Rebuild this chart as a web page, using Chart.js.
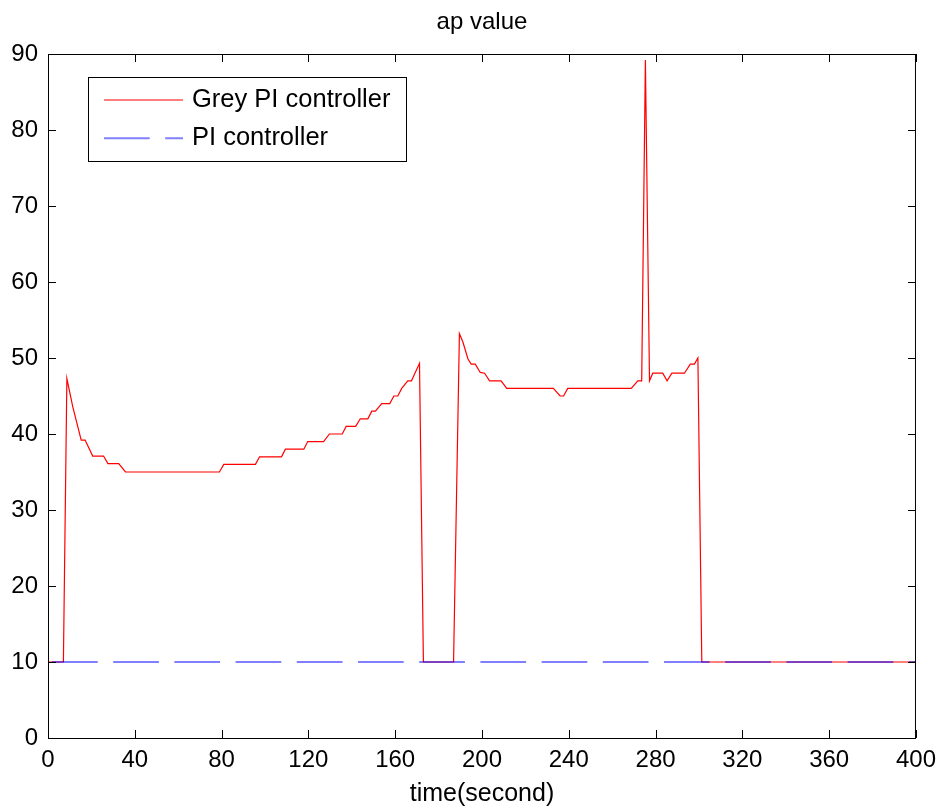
<!DOCTYPE html>
<html>
<head>
<meta charset="utf-8">
<title>ap value</title>
<script src="https://cdn.jsdelivr.net/npm/chart.js@4.4.1/dist/chart.umd.min.js"></script>
<style>
  html, body { margin: 0; padding: 0; background: #fff; }
  #wrap { position: relative; width: 944px; height: 809px; }
</style>
</head>
<body>
<div id="wrap"><canvas id="apChart"></canvas></div>
<script>
// Grey PI controller output (time in seconds, ap value)
const greyTime = [
    0, 7.1, 8.7, 11.4, 15.3, 17.1, 20.6, 25.6, 27.6, 32.6, 35.7, 79.0, 81.0, 95.6, 97.5,
    107.6, 109.4, 117.9, 119.7, 127.0, 129.7, 135.6, 137.4, 141.8, 143.9, 147.4, 149.2,
    150.9, 153.8, 157.5, 159.4, 161.2, 163.0, 165.8, 167.5, 171.2, 173.0,
    186.9, 189.6, 191.2, 193.5, 195.0, 196.9, 199.2, 201.2, 203.5, 208.8, 211.4, 232.9,
    236.0, 237.6, 239.5, 268.8, 271.8, 273.6, 275.3, 277.2, 278.7, 283.3, 285.3, 287.5,
    293.3, 296.0, 297.9, 299.5, 301.3, 400
];
const greyValue = [
    10, 10, 47.3, 43.6, 39.2, 39.2, 37.1, 37.1, 36.1, 36.1, 35, 35, 36, 36, 37,
    37, 38, 38, 39, 39, 40, 40, 41, 41, 42, 42, 43,
    43, 44, 44, 45, 45, 46, 47, 47, 49.3, 10,
    10, 53.2, 52.1, 49.9, 49.2, 49.2, 48.1, 48, 47, 47, 46, 46,
    45, 45, 46, 46, 47, 47, 89.2, 47, 48, 48, 47, 48,
    48, 49.2, 49.2, 50, 10, 10
];

// Plain PI controller holds a constant value
const piTime = [0, 400];
const piValue = [10, 10];

const xTicks = [0, 40, 80, 120, 160, 200, 240, 280, 320, 360, 400];
const yTicks = [0, 10, 20, 30, 40, 50, 60, 70, 80, 90];

const FONT = "'Liberation Sans', Arial, Helvetica, sans-serif";
Chart.defaults.font.family = FONT;
Chart.defaults.color = '#000';

const toPoints = (xs, ys) => xs.map((x, i) => ({ x: x, y: ys[i] }));

// matlab style box: title over the axes, frame, inward ticks on all four sides, boxed legend
const axesBox = {
    id: 'axesBox',
    afterDraw(chart) {
        const { ctx, chartArea: a, scales } = chart;
        const len = 8;
        ctx.save();

        ctx.fillStyle = '#000';
        ctx.font = '24px ' + FONT;
        ctx.textAlign = 'center';
        ctx.textBaseline = 'middle';
        ctx.fillText('ap value', (a.left + a.right) / 2, a.top - 31.5);

        ctx.strokeStyle = '#000';
        ctx.lineWidth = 1;
        ctx.beginPath();
        scales.x.ticks.forEach(t => {
            const px = Math.round(scales.x.getPixelForValue(t.value)) + 0.5;
            ctx.moveTo(px, a.bottom); ctx.lineTo(px, a.bottom - len);
            ctx.moveTo(px, a.top); ctx.lineTo(px, a.top + len);
        });
        scales.y.ticks.forEach(t => {
            const py = Math.round(scales.y.getPixelForValue(t.value)) + 0.5;
            ctx.moveTo(a.left, py); ctx.lineTo(a.left + len, py);
            ctx.moveTo(a.right, py); ctx.lineTo(a.right - len, py);
        });
        ctx.stroke();
        ctx.strokeRect(a.left + 0.5, a.top + 0.5, a.right - a.left - 1, a.bottom - a.top);

        // legend
        const lx = a.left + 40, ly = a.top + 23, lw = 318, lh = 84;
        ctx.fillStyle = '#fff';
        ctx.fillRect(lx, ly, lw, lh);
        ctx.strokeRect(lx + 0.5, ly + 0.5, lw, lh);
        ctx.font = '25.5px ' + FONT;
        ctx.textBaseline = 'middle';
        ctx.textAlign = 'left';
        [...chart.data.datasets].sort((p, q) => p.legendIndex - q.legendIndex).forEach((ds, i) => {
            const y = ly + 23 + i * 38.3;
            ctx.save();
            ctx.strokeStyle = ds.borderColor;
            ctx.lineWidth = ds.borderWidth;
            ctx.setLineDash(ds.borderDash || []);
            ctx.beginPath();
            ctx.moveTo(lx + 16, y); ctx.lineTo(lx + 95, y);
            ctx.stroke();
            ctx.restore();
            ctx.fillStyle = '#000';
            ctx.fillText(ds.label, lx + 104, y);
        });
        ctx.restore();
    }
};

new Chart(document.getElementById('apChart'), {
    type: 'line',
    data: {
        datasets: [
            {
                label: 'Grey PI controller',
                legendIndex: 0,
                data: toPoints(greyTime, greyValue),
                borderColor: '#ff0000',
                borderWidth: 1.2,
                pointRadius: 0,
                tension: 0,
                order: 1
            },
            {
                label: 'PI controller',
                legendIndex: 1,
                data: toPoints(piTime, piValue),
                borderColor: 'rgba(0, 0, 255, 0.5)',
                borderWidth: 2,
                borderDash: [45.7, 15.5],
                borderDashOffset: -4,
                pointRadius: 0,
                tension: 0,
                order: 0
            }
        ]
    },
    options: {
        responsive: true,
        maintainAspectRatio: false,
        animation: false,
        layout: { padding: { top: 54, right: 27, bottom: 0, left: 0 } },
        plugins: {
            legend: { display: false },
            tooltip: { enabled: false },
            title: { display: false }
        },
        scales: {
            x: {
                type: 'linear',
                min: 0,
                max: 400,
                afterBuildTicks: s => { s.ticks = xTicks.map(v => ({ value: v })); },
                afterFit: s => { s.height = 71; },
                grid: { display: false, drawTicks: false },
                border: { display: false },
                ticks: { font: { size: 24 }, color: '#000', padding: 8, maxRotation: 0 },
                title: {
                    display: true,
                    text: 'time(second)',
                    color: '#000',
                    font: { size: 25 },
                    padding: { top: 0, bottom: 0 }
                }
            },
            y: {
                type: 'linear',
                min: 0,
                max: 90,
                afterBuildTicks: s => { s.ticks = yTicks.map(v => ({ value: v })); },
                afterFit: s => { s.width = 48; },
                grid: { display: false, drawTicks: false },
                border: { display: false },
                ticks: { font: { size: 24 }, color: '#000', padding: 10 }
            }
        }
    },
    plugins: [axesBox]
});
</script>
</body>
</html>
